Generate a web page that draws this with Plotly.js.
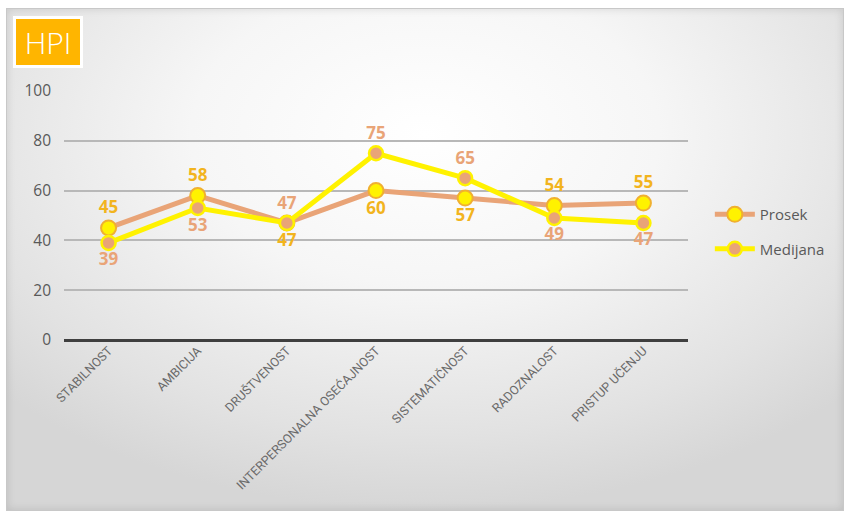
<!DOCTYPE html>
<html>
<head>
<meta charset="utf-8">
<script src="https://cdn.plot.ly/plotly-3.0.1.min.js"></script>
<style>
  html, body { margin: 0; padding: 0; background: #ffffff; }
  #wrap { position: relative; width: 850px; height: 517px; overflow: hidden; }
  #card { position: absolute; left: 6px; top: 8px; width: 838px; height: 503px;
          border: 1px solid #c8c8c8; box-sizing: border-box;
          background: radial-gradient(ellipse 70% 75% at 50% 25%, #ffffff 0%, #f6f6f6 40%, #e2e2e2 80%, #d6d6d6 100%);
          box-shadow: inset 0 0 8px rgba(0,0,0,0.12); }
  #chart { position: absolute; left: 0; top: 0; width: 850px; height: 517px; }
</style>
</head>
<body>
<div id="wrap">
  <div id="card"></div>
  <div id="chart"></div>
</div>
<script>
const categories = ["STABILNOST", "AMBICIJA", "DRUŠTVENOST", "INTERPERSONALNA OSEĆAJNOST", "SISTEMATIČNOST", "RADOZNALOST", "PRISTUP UČENJU"];
const prosek = [45, 58, 47, 60, 57, 54, 55];
const medijana = [39, 53, 47, 75, 65, 49, 47];
const yTicks = [0, 20, 40, 60, 80, 100];
const seriesNames = ["Prosek", "Medijana"];

const tan = "#E9A477";
const gold = "#F2B41E";
const yellow = "#FFF200";

const traces = [
  {
    x: categories, y: prosek, name: seriesNames[0], type: "scatter", mode: "lines+markers+text",
    legendgroup: "a",
    line: { color: tan, width: 5 },
    marker: { size: 15, color: yellow, line: { color: "#F0B030", width: 2 } },
    text: prosek.map(String),
    textposition: ["top center", "top center", "bottom center", "bottom center", "bottom center", "top center", "top center"],
    textfont: { family: "Open Sans, sans-serif", size: 17, color: gold, weight: 700 },
    cliponaxis: false
  },
  {
    x: categories, y: medijana, name: seriesNames[1], type: "scatter", mode: "lines+markers+text",
    legendgroup: "b",
    line: { color: yellow, width: 5 },
    marker: { size: 14, color: tan, line: { color: yellow, width: 2.5 } },
    text: medijana.map(String),
    textposition: ["bottom center", "bottom center", "top center", "top center", "top center", "bottom center", "bottom center"],
    textfont: { family: "Open Sans, sans-serif", size: 17, color: tan, weight: 700 },
    cliponaxis: false
  }
];

const layout = {
  width: 850, height: 517,
  paper_bgcolor: "rgba(0,0,0,0)",
  plot_bgcolor: "rgba(0,0,0,0)",
  margin: { l: 64, r: 162, t: 91, b: 177 },
  showlegend: true,
  legend: {
    x: 1.035, y: 0.57, xanchor: "left", yanchor: "top",
    font: { family: "Open Sans, sans-serif", size: 15, color: "#595959" },
    bgcolor: "rgba(0,0,0,0)", itemwidth: 40, tracegroupgap: 12
  },
  xaxis: {
    type: "category", tickangle: -45,
    tickfont: { family: "Roboto, sans-serif", size: 12.5, color: "#6a6a6a" },
    showgrid: false, zeroline: false, showline: false, ticks: "",
    range: [-0.5, 6.5], fixedrange: true
  },
  yaxis: {
    range: [0, 100], tickvals: yTicks, ticktext: yTicks.map(String),
    tickfont: { family: "Open Sans, sans-serif", size: 15.5, color: "#595959" },
    showgrid: true, gridcolor: "#b8b8b8", gridwidth: 2,
    zeroline: true, zerolinecolor: "#3f3f3f", zerolinewidth: 3,
    showline: false, ticks: "", ticklabelstandoff: 12, fixedrange: true
  },
  annotations: [
    {
      text: "HPI", xref: "paper", yref: "paper", x: -0.082, y: 1.30,
      xanchor: "left", yanchor: "top", showarrow: false,
      font: { family: "Open Sans, sans-serif", size: 30, color: "#ffffff", weight: 300 },
      bgcolor: "#FFB500", bordercolor: "#ffffff", borderwidth: 3,
      width: 60, height: 42, borderpad: 2
    }
  ]
};

Plotly.newPlot("chart", traces, layout, { displayModeBar: false, staticPlot: true });
</script>
</body>
</html>
